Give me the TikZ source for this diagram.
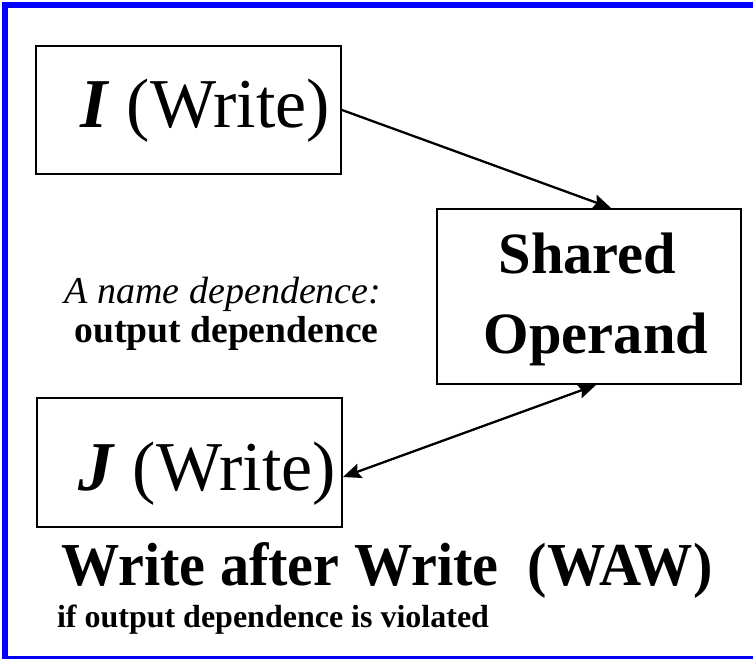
\documentclass[tikz,border=0pt]{standalone}
\usepackage{fontspec}
\setmainfont{Liberation Serif}
\usetikzlibrary{arrows.meta}
\tikzset{
  box/.style={draw=black, line width=2pt, inner sep=0pt, rectangle},
  txt/.style={inner sep=0pt, outer sep=0pt},
  tip/.tip={Stealth[length=18pt,width=15pt,inset=3pt]},
  link/.style={line width=2.3pt, -tip},
  frame/.style={draw=none, fill={rgb,255:red,0;green,0;blue,255}}
}
\newcommand{\fsz}[1]{\fontsize{#1}{1.2\dimexpr#1pt\relax}\selectfont}
\begin{document}
\begin{tikzpicture}[x=1pt,y=-1pt]
  \useasboundingbox (0,0) rectangle (753,659);
  \fill[white] (0,0) rectangle (753,659);
  % blue frame: heavy top and left, thin bottom
  \path[frame] (2,2) rectangle (753,8);
  \path[frame] (2,2) rectangle (8,659);
  \path[frame] (2,656) rectangle (753,658.5);

  % boxes
  \node[box, minimum width=305pt, minimum height=128pt] (Ibox) at (188.5,110) {};
  \node[box, minimum width=304pt, minimum height=175pt] (Sbox) at (589,296.5) {};
  \node[box, minimum width=305pt, minimum height=129pt] (Jbox) at (189.5,462.5) {};

  % box texts
  \node[txt, anchor=base east] (Itext) at (330,127) {\fsz{70}\textbf{\textit{I}} (Write)};
  \node[txt, anchor=base east] (Jtext) at (336,490) {\fsz{70}\textbf{\textit{J}} (Write)};
  \node[txt, anchor=base] (Sh) at (587.5,273) {\fsz{58.5}\bfseries Shared};
  \node[txt, anchor=base] (Op) at (596,353) {\fsz{58.5}\bfseries Operand};

  % side note
  \node[txt, anchor=base] (nm) at (223,303) {\fsz{38}\itshape A name dependence:};
  \node[txt, anchor=base] (od) at (226.5,342) {\fsz{37.6}\bfseries output dependence};

  % caption
  \node[txt, anchor=base west, xscale=0.955] (waw) at (61,585) {\fsz{61}\bfseries Write after Write\ \ (WAW)};
  \node[txt, anchor=base west] (viol) at (57,627) {\fsz{32}\bfseries if output dependence is violated};

  % connectors
  \draw[link] (Ibox.east) -- ([xshift=175pt]Sbox.north west);
  \draw[link, tip-tip] ([yshift=-14.5pt]Jbox.east) -- ([xshift=160pt]Sbox.south west);
\end{tikzpicture}
\end{document}
